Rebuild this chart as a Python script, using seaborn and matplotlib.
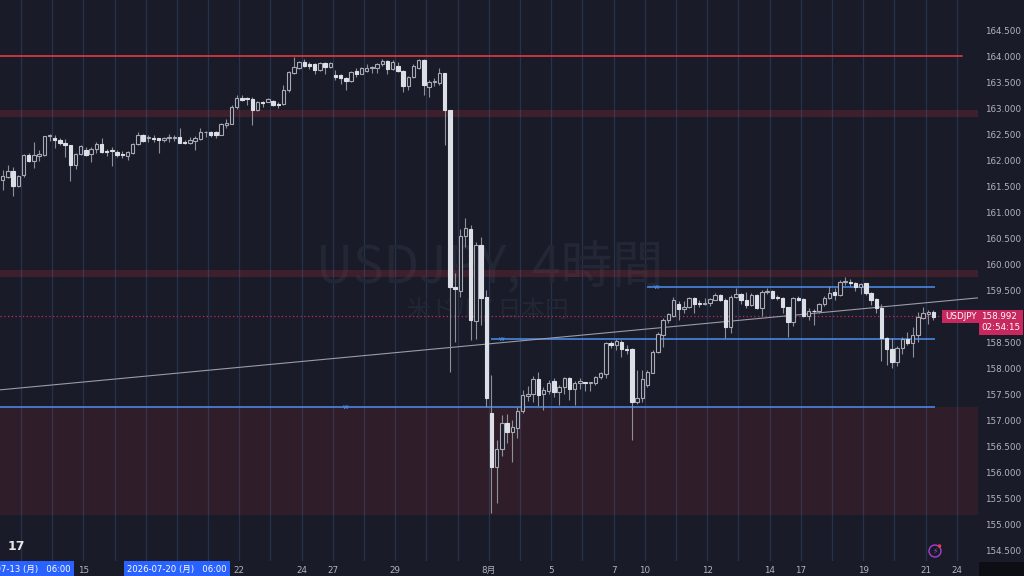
import numpy as np
import pandas as pd
import seaborn as sns
import matplotlib.pyplot as plt
import matplotlib.transforms as mtransforms
from matplotlib.patches import Rectangle, Ellipse

# USDJPY 4H candles, bar 0 = 2026-07-13 06:00 (6 bars per trading day)
first_bar = -4
opens = [161.62, 161.67, 161.79, 161.51, 161.71, 162.10, 161.99, 162.08, 162.10, 162.46,
         162.43, 162.38, 162.32, 162.28, 161.90, 162.11, 162.20, 162.11, 162.21, 162.30,
         162.17, 162.19, 162.16, 162.11, 162.08, 162.14, 162.30, 162.48, 162.42, 162.42,
         162.42, 162.39, 162.42, 162.43, 162.45, 162.35, 162.33, 162.37, 162.40, 162.53,
         162.53, 162.53, 162.49, 162.67, 162.70, 163.01,
         163.20, 163.19, 163.18, 162.96, 163.12, 163.12, 163.14, 163.07, 163.07, 163.34,
         163.68, 163.77, 163.88, 163.84, 163.84, 163.73, 163.86, 163.78, 163.63, 163.63,
         163.58, 163.52, 163.71, 163.66, 163.72, 163.76, 163.76, 163.84, 163.90, 163.75,
         163.81, 163.71, 163.43, 163.60, 163.77, 163.92, 163.41, 163.50, 163.49, 163.67,
         162.96, 159.56, 159.48, 160.53, 160.67, 158.90, 160.37, 159.36, 157.13, 156.09,
         156.44, 156.95, 156.78, 156.85, 157.17, 157.47, 157.51,
         157.78, 157.51, 157.55, 157.75, 157.53, 157.63, 157.80, 157.60, 157.71, 157.73,
         157.72, 157.71, 157.82, 157.88, 158.49, 158.44, 158.51, 158.37, 158.36, 157.35,
         157.42, 157.67, 157.91, 158.31,
         158.64, 158.92, 159.01, 159.23, 159.13, 159.18, 159.34, 159.26, 159.24, 159.26,
         159.31, 159.40, 159.31, 158.78, 159.36, 159.42, 159.30, 159.21, 159.40, 159.15,
         159.46, 159.49, 159.37, 159.34, 159.17, 158.89,
         159.34, 159.32, 159.00, 159.10, 159.10, 159.23, 159.34, 159.47, 159.40, 159.66,
         159.66, 159.64, 159.56, 159.63, 159.45, 159.32, 159.15, 158.57, 158.36, 158.12,
         158.38, 158.55, 158.48, 158.64, 158.97, 159.03, 159.08]
highs = [161.80, 161.90, 161.87, 161.72, 162.11, 162.13, 162.35, 162.19, 162.47, 162.50,
         162.49, 162.42, 162.40, 162.29, 162.13, 162.29, 162.26, 162.26, 162.35, 162.43,
         162.22, 162.26, 162.19, 162.17, 162.17, 162.32, 162.54, 162.51, 162.48, 162.48,
         162.43, 162.45, 162.51, 162.48, 162.61, 162.38, 162.44, 162.46, 162.61, 162.55,
         162.55, 162.55, 162.71, 162.79, 163.06, 163.25,
         163.25, 163.22, 163.22, 163.13, 163.13, 163.20, 163.15, 163.12, 163.44, 163.71,
         163.99, 163.90, 163.94, 163.89, 163.86, 163.88, 163.89, 163.89, 163.73, 163.65,
         163.60, 163.71, 163.76, 163.79, 163.84, 163.81, 163.86, 163.95, 163.92, 163.92,
         163.89, 163.73, 163.62, 163.84, 163.94, 163.94, 163.54, 163.57, 163.76, 163.67,
         162.96, 159.82, 160.67, 160.88, 160.75, 160.43, 160.52, 159.50, 157.87, 156.62,
         157.10, 157.12, 157.01, 157.26, 157.58, 157.65, 157.85,
         157.93, 157.64, 157.77, 157.80, 157.67, 157.83, 157.83, 157.76, 157.80, 157.74,
         157.74, 157.85, 157.93, 158.51, 158.52, 158.55, 158.54, 158.44, 158.38, 157.96,
         157.96, 157.96, 158.35, 158.70,
         158.96, 159.06, 159.37, 159.28, 159.28, 159.37, 159.37, 159.31, 159.34, 159.34,
         159.45, 159.42, 159.34, 159.40, 159.53, 159.45, 159.47, 159.44, 159.42, 159.50,
         159.53, 159.51, 159.40, 159.36, 159.18, 159.36,
         159.38, 159.34, 159.15, 159.13, 159.26, 159.38, 159.58, 159.53, 159.69, 159.76,
         159.72, 159.66, 159.64, 159.64, 159.47, 159.34, 159.24, 158.60, 158.57, 158.42,
         158.60, 158.70, 158.78, 159.08, 159.17, 159.12, 159.11]
lows = [161.42, 161.65, 161.30, 161.49, 161.68, 161.97, 161.84, 161.99, 162.08, 162.37,
        162.24, 162.29, 162.06, 161.60, 161.83, 162.10, 162.08, 161.97, 162.13, 162.14,
        162.08, 161.89, 162.06, 162.03, 162.00, 162.11, 162.28, 162.35, 162.35, 162.35,
        162.14, 162.35, 162.34, 162.37, 162.32, 162.31, 162.31, 162.20, 162.38, 162.45,
        162.45, 162.43, 162.48, 162.62, 162.69, 162.99,
        163.13, 163.06, 162.67, 162.94, 163.02, 163.11, 163.04, 163.00, 163.06, 163.31,
        163.66, 163.75, 163.79, 163.75, 163.66, 163.71, 163.66, 163.76, 163.54, 163.47,
        163.34, 163.50, 163.60, 163.65, 163.70, 163.68, 163.68, 163.81, 163.66, 163.73,
        163.70, 163.30, 163.34, 163.57, 163.75, 163.25, 163.22, 163.43, 163.45, 162.29,
        157.93, 158.51, 159.36, 160.33, 158.54, 158.55, 158.83, 157.26, 155.21, 155.40,
        156.30, 156.55, 156.20, 156.65, 157.13, 157.37, 157.35,
        157.27, 157.19, 157.51, 157.44, 157.29, 157.50, 157.38, 157.29, 157.59, 157.55,
        157.56, 157.67, 157.78, 157.80, 158.38, 158.35, 158.21, 158.27, 156.62, 157.31,
        157.35, 157.64, 157.90, 158.28,
        158.41, 158.86, 158.99, 158.92, 159.05, 159.15, 159.05, 159.17, 159.21, 159.19,
        159.30, 159.28, 158.57, 158.68, 159.34, 159.24, 159.15, 159.19, 159.13, 159.00,
        159.42, 159.32, 159.31, 159.05, 158.60, 158.80,
        159.28, 158.99, 158.92, 158.83, 159.06, 159.19, 159.32, 159.30, 159.38, 159.60,
        159.58, 159.49, 159.42, 159.40, 159.21, 159.05, 158.14, 158.06, 158.01, 158.03,
        158.27, 158.44, 158.21, 158.51, 158.94, 158.85, 158.93]
closes = [161.70, 161.79, 161.51, 161.70, 162.10, 161.99, 162.09, 162.11, 162.46, 162.47,
          162.38, 162.32, 162.28, 161.90, 162.11, 162.27, 162.10, 162.22, 162.30, 162.16,
          162.16, 162.18, 162.10, 162.10, 162.15, 162.30, 162.49, 162.37, 162.44, 162.41,
          162.39, 162.43, 162.44, 162.43, 162.33, 162.33, 162.38, 162.43, 162.53, 162.53,
          162.49, 162.48, 162.69, 162.72, 163.01, 163.20,
          163.15, 163.17, 162.96, 163.12, 163.09, 163.17, 163.06, 163.05, 163.34, 163.70,
          163.79, 163.88, 163.81, 163.81, 163.73, 163.86, 163.79, 163.86, 163.59, 163.57,
          163.52, 163.70, 163.66, 163.76, 163.77, 163.78, 163.84, 163.90, 163.75, 163.89,
          163.71, 163.43, 163.60, 163.81, 163.92, 163.44, 163.50, 163.51, 163.67, 162.96,
          159.55, 159.52, 160.54, 160.69, 158.92, 160.37, 159.35, 157.42, 156.09, 156.44,
          156.95, 156.78, 156.86, 157.17, 157.48, 157.51, 157.78,
          157.49, 157.58, 157.72, 157.53, 157.63, 157.80, 157.60, 157.72, 157.75, 157.72,
          157.73, 157.83, 157.90, 158.49, 158.44, 158.52, 158.36, 158.35, 157.35, 157.42,
          157.78, 157.93, 158.31, 158.65,
          158.92, 159.03, 159.30, 159.13, 159.18, 159.34, 159.24, 159.24, 159.26, 159.32,
          159.40, 159.30, 158.78, 159.37, 159.42, 159.30, 159.21, 159.40, 159.15, 159.47,
          159.49, 159.34, 159.34, 159.17, 158.89, 159.34,
          159.30, 159.00, 159.10, 159.09, 159.23, 159.34, 159.45, 159.40, 159.66, 159.67,
          159.64, 159.55, 159.61, 159.44, 159.31, 159.15, 158.57, 158.36, 158.12, 158.38,
          158.55, 158.48, 158.64, 158.98, 159.06, 159.08, 158.99]

# axis labels
day_numbers = [2, 7, 9, 10, 12, 15, 17, 19, 20, 22, 24, 25, 27, 29, 30]
day_labels = ["15", "22", "24", "27", "29", "8月", "5", "7", "10", "12", "14", "17", "19", "21", "24"]
n_days = 31
date_boxes = {0: "2026-07-13 (月)   06:00", 5: "2026-07-20 (月)   06:00"}
price_ticks = np.arange(154.5, 164.51, 0.5)

# drawn levels
resistance = 164.0
bands = [(162.83, 162.97), (159.75, 159.885)]
zone = (155.17, 157.25)
w_levels = [159.56, 158.56, 157.25]
w_start = [120.0, 90.0, -4.6]
w_label_at = [121.8, 92.0, 62.0]
w_end = 175.3
trend_x = [-4.6, 183.6]
trend_y = [157.58, 159.35]
last_price = 158.992
countdown = "02:54:15"

bg = "#191c28"
sns.set_theme(style="dark", rc={"axes.facecolor": bg, "figure.facecolor": bg,
                                "axes.grid": False})
plt.rcParams["font.family"] = ["DejaVu Sans", "Noto Sans CJK JP"]

df = pd.DataFrame({"open": opens, "high": highs, "low": lows, "close": closes})
df["bar"] = np.arange(len(df)) + first_bar
df["up"] = df["close"] >= df["open"]
df["lo"] = df[["open", "close"]].min(axis=1)
df["h"] = (df["close"] - df["open"]).abs().clip(lower=0.014)

fig = plt.figure(figsize=(10.24, 5.76), dpi=100)
ax = fig.add_axes([0, 15 / 576, 978 / 1024, 561 / 576])
ax.set_xlim(-4.52, 183.56)
ax.set_ylim(154.29, 165.077)
for s in ax.spines.values():
    s.set_visible(False)

# day separators
for k in range(n_days + 1):
    ax.axvline(6 * k - 0.5, color="#27324d", lw=0.9, zorder=0)

# zones and levels
for lo, hi in bands:
    ax.axhspan(lo, hi, color="#f23645", alpha=0.17, lw=0, zorder=1)
ax.axhspan(zone[0], zone[1], color="#f23645", alpha=0.1, lw=0, zorder=1)
ax.axhline(resistance, xmax=962 / 978, color="#e5393f", lw=1.2, zorder=2)
for lvl, x0, xl in zip(w_levels, w_start, w_label_at):
    ax.hlines(lvl, x0, w_end, color="#4d8ff0", lw=1.1, zorder=2)
    ax.text(xl, lvl, "w", color="#4d8ff0", fontsize=5, ha="center", va="center", zorder=2)

# watermark
ax.text(0.501, 0.4955, "USDJPY, 4時間", transform=ax.transAxes, ha="center", va="baseline",
        fontsize=37, color="#232634", family=["Noto Sans CJK JP"], zorder=0.5)
ax.text(0.499, 0.447, "米ドル / 日本円", transform=ax.transAxes, ha="center", va="center",
        fontsize=17, color="#232634", family=["Noto Sans CJK JP"], zorder=0.5)

# trend line
sns.lineplot(x=trend_x, y=trend_y, ax=ax, color="#9a9da6", lw=0.8, zorder=2.5)

# candles
ax.vlines(df["bar"], df["low"], df["high"], color="#8d9099", lw=0.8, zorder=3)
up = df[df["up"]]
dn = df[~df["up"]]
ax.bar(up["bar"], up["h"], bottom=up["lo"], width=0.66, facecolor=bg,
       edgecolor="#a7aab3", lw=0.8, zorder=4)
ax.bar(dn["bar"], dn["h"], bottom=dn["lo"], width=0.66, facecolor="#dcdfe6",
       edgecolor="#dcdfe6", lw=0.8, zorder=4)

# last price line and labels
ax.axhline(last_price, color="#c8285e", lw=0.9, ls=(0, (1, 2)), zorder=2)
blend = mtransforms.blended_transform_factory(ax.transAxes, ax.transData)
ax.text(0.9985, last_price, "USDJPY", transform=blend, ha="right", va="center",
        fontsize=6.3, color="white", zorder=6, clip_on=False,
        bbox=dict(boxstyle="square,pad=0.28", fc="#c8285e", ec="none"))
ax.annotate(f"{last_price:.3f}\n{countdown}", xy=(1.0, last_price), xycoords=blend,
            xytext=(2.5, -4), textcoords="offset points", ha="left", va="center",
            fontsize=6.3, color="white", linespacing=1.25, annotation_clip=False,
            bbox=dict(boxstyle="square,pad=0.3", fc="#c8285e", ec="none"))

# price axis
ax.yaxis.tick_right()
ax.set_yticks(price_ticks)
ax.set_yticklabels([f"{p:.3f}" for p in price_ticks])
ax.tick_params(axis="y", length=0, pad=5, labelsize=6.3, labelcolor="#b2b5be")

# time axis
ax.set_xticks([6 * d - 0.5 for d in day_numbers])
ax.set_xticklabels(day_labels)
ax.tick_params(axis="x", length=0, pad=3.5, labelsize=6.3, labelcolor="#b2b5be")
blend_x = mtransforms.blended_transform_factory(ax.transData, ax.transAxes)
for d, txt in date_boxes.items():
    ax.text(6 * d - 0.5, -8 / 561, txt, transform=blend_x, ha="center", va="center",
            fontsize=6.1, color="white", clip_on=False, zorder=7,
            bbox=dict(boxstyle="square,pad=0.4", fc="#2962ff", ec="none"))

# corner, logo, flash icon
fig.add_artist(Rectangle((979 / 1024, 0), 45 / 1024, 14 / 576, transform=fig.transFigure,
                         fc="#0d0e13", ec="none"))
fig.text(8 / 1024, 30 / 576, "17", fontsize=9, fontweight="bold", color="#e8e8e8",
         ha="left", va="center")
fig.add_artist(Ellipse((935 / 1024, 25 / 576), 12 / 1024, 12 / 576, transform=fig.transFigure,
                       fc="none", ec="#a43fd0", lw=1.0))
fig.text(935 / 1024, 25 / 576, "⚡", fontsize=5.5, color="#a43fd0", ha="center", va="center")
fig.add_artist(Ellipse((939.5 / 1024, 30 / 576), 3.5 / 1024, 3.5 / 576, transform=fig.transFigure,
                       fc="#f23645", ec="none"))

fig.savefig("out.png", dpi=100, facecolor=bg)
